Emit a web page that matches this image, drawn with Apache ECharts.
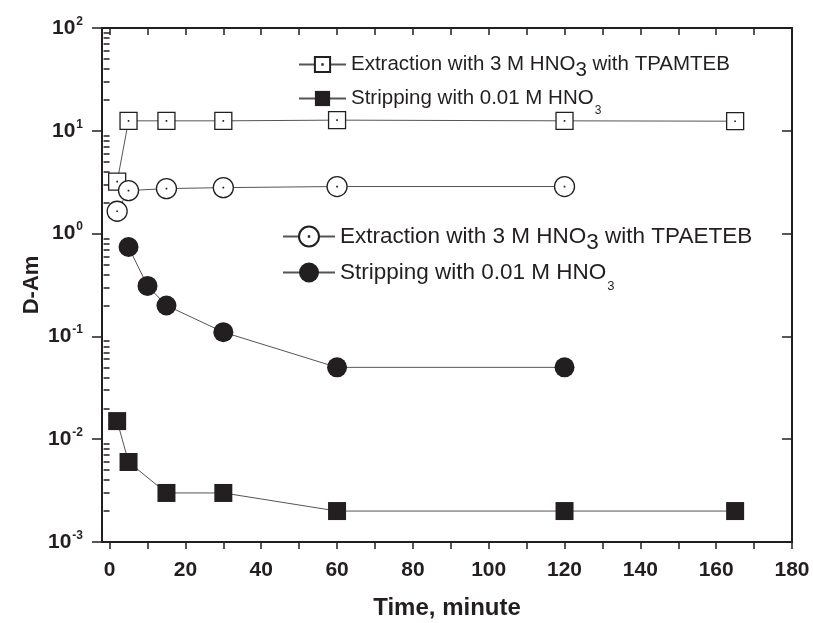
<!DOCTYPE html>
<html><head><meta charset="utf-8">
<script src="https://cdn.jsdelivr.net/npm/echarts@6/dist/echarts.min.js"></script>
<style>html,body{margin:0;padding:0;background:#fff}#c{width:813px;height:623px}</style>
</head><body><div id="c"></div>
<script>
// ---- data ----
const timeExtTPAMTEB = [2, 5, 15, 30, 60, 120, 165];
const dExtTPAMTEB    = [3.2, 12.5, 12.5, 12.5, 12.7, 12.5, 12.4];
const timeStrTPAMTEB = [2, 5, 15, 30, 60, 120, 165];
const dStrTPAMTEB    = [0.015, 0.006, 0.003, 0.003, 0.002, 0.002, 0.002];
const timeExtTPAETEB = [2, 5, 15, 30, 60, 120];
const dExtTPAETEB    = [1.65, 2.62, 2.74, 2.8, 2.87, 2.87];
const timeStrTPAETEB = [5, 10, 15, 30, 60, 120];
const dStrTPAETEB    = [0.74, 0.31, 0.2, 0.11, 0.05, 0.05];

const xMajorTicks = [0, 20, 40, 60, 80, 100, 120, 140, 160, 180];
const xAllTicks   = [0, 10, 20, 30, 40, 50, 60, 70, 80, 90, 100, 110, 120, 130, 140, 150, 160, 170, 180];
const yDecades    = [0.001, 0.01, 0.1, 1, 10, 100];
const yExponents  = ['-3', '-2', '-1', '0', '1', '2'];
const yMinorTicks = [0.002,0.003,0.004,0.005,0.006,0.007,0.008,0.009,
                     0.02,0.03,0.04,0.05,0.06,0.07,0.08,0.09,
                     0.2,0.3,0.4,0.5,0.6,0.7,0.8,0.9,
                     2,3,4,5,6,7,8,9,
                     20,30,40,50,60,70,80,90];

const nExtA = 'Extraction with 3 M HNO3 with TPAMTEB';
const nStrA = 'Stripping with 0.01 M HNO3 (TPAMTEB)';
const nExtB = 'Extraction with 3 M HNO3 with TPAETEB';
const nStrB = 'Stripping with 0.01 M HNO3 (TPAETEB)';

// ---- chart ----
const FONT = '"Liberation Sans", Arial, Helvetica, sans-serif';
const INK = '#231f20';
const SQ_DOT = 'path://M0,0H20V20H0Z M9.8,9.8H10.2V10.2H9.8Z';
const CI_DOT = 'path://M10,0A10,10,0,1,1,10,20A10,10,0,1,1,10,0Z M9.8,9.8H10.2V10.2H9.8Z';

function pairs(xs, ys) { return xs.map((x, i) => [x, ys[i]]); }

function mkRich(fs, bigPad, subFs, subPad) {
  return {
    t:  { fontFamily: FONT, fontSize: fs, color: INK },
    bs: { fontFamily: FONT, fontSize: fs, color: INK, padding: [bigPad, 0, 0, 0] },
    ss: { fontFamily: FONT, fontSize: subFs, color: INK, padding: [subPad, 0, 0, 1] }
  };
}
const legendText = {};
legendText[nExtA] = '{t|Extraction with 3 M HNO}{bs|3}{t| with TPAMTEB}';
legendText[nStrA] = '{t|Stripping with 0.01 M HNO}{ss|3}';
legendText[nExtB] = '{t|Extraction with 3 M HNO}{bs|3}{t| with TPAETEB}';
legendText[nStrB] = '{t|Stripping with 0.01 M HNO}{ss|3}';

function mkLegend(name, left, top, w, h, fs, rich) {
  return {
    data: [name], left: left, top: top, orient: 'vertical', padding: 0,
    itemWidth: w, itemHeight: h, itemGap: 0, selectedMode: false,
    formatter: n => legendText[n],
    textStyle: { fontFamily: FONT, fontSize: fs, color: INK, rich: rich }
  };
}
const richA = mkRich(20.5, 11, 12, 25);
const richB = mkRich(22.5, 12, 13, 27);

function yLabel(v) {
  const i = yDecades.findIndex(d => Math.abs(d - v) / d < 1e-6);
  return i < 0 ? '' : '{b|10}{s|' + yExponents[i] + '}';
}

const axisLineStyle = { color: INK, width: 2 };

const option = {
  animation: false,
  backgroundColor: '#fff',
  grid: { left: 102, right: 21, top: 28, bottom: 81, containLabel: false, outerBoundsMode: 'none' },
  legend: [
    mkLegend(nExtA, 298, 54, 47, 19, 20.5, richA),
    mkLegend(nStrA, 298, 88, 47, 19, 20.5, richA),
    mkLegend(nExtB, 282, 225, 52, 25, 22.5, richB),
    mkLegend(nStrB, 282, 261, 52, 25, 22.5, richB)
  ],
  xAxis: [
    {
      type: 'value', min: -2, max: 180, position: 'bottom',
      axisLine: { show: true, onZero: false, lineStyle: axisLineStyle },
      axisTick: { show: true, customValues: xAllTicks, length: 7, inside: false, lineStyle: { color: INK, width: 1.5 } },
      axisLabel: { customValues: xMajorTicks, fontFamily: FONT, fontSize: 21, fontWeight: 'bold', color: INK, margin: 18 },
      splitLine: { show: false },
      name: 'Time, minute', nameLocation: 'middle', nameGap: 54, nameMoveOverlap: false,
      nameTextStyle: { fontFamily: FONT, fontSize: 24, fontWeight: 'bold', color: INK }
    },
    {
      type: 'value', min: -2, max: 180, position: 'top',
      axisLine: { show: true, onZero: false, lineStyle: axisLineStyle },
      axisTick: { show: true, customValues: xAllTicks, length: 7, inside: true, lineStyle: { color: INK, width: 1.5 } },
      axisLabel: { show: false }, splitLine: { show: false }
    }
  ],
  yAxis: [
    {
      type: 'log', logBase: 10, min: 0.001, max: 100, position: 'left',
      axisLine: { show: true, onZero: false, lineStyle: axisLineStyle },
      axisTick: { show: true, customValues: yDecades, length: 10, lineStyle: { color: INK, width: 1.5 } },
      axisLabel: {
        customValues: yDecades, margin: 19, formatter: yLabel,
        rich: {
          b: { fontFamily: FONT, fontSize: 21, fontWeight: 'bold', color: INK },
          s: { fontFamily: FONT, fontSize: 12, fontWeight: 'bold', color: INK, padding: [0, 0, 13, 1] }
        }
      },
      splitLine: { show: false },
      name: 'D-Am', nameLocation: 'middle', nameGap: 59, nameMoveOverlap: false,
      nameTextStyle: { fontFamily: FONT, fontSize: 22, fontWeight: 'bold', color: INK }
    },
    {
      type: 'log', logBase: 10, min: 0.001, max: 100, position: 'left',
      axisLine: { show: false },
      axisTick: { show: true, customValues: yMinorTicks, length: 6, lineStyle: { color: INK, width: 1.5 } },
      axisLabel: { show: false }, splitLine: { show: false }
    },
    {
      type: 'log', logBase: 10, min: 0.001, max: 100, position: 'right',
      axisLine: { show: true, onZero: false, lineStyle: axisLineStyle },
      axisTick: { show: true, customValues: yDecades, length: 10, inside: true, lineStyle: { color: INK, width: 1.5 } },
      axisLabel: { show: false }, splitLine: { show: false }
    },
    {
      type: 'log', logBase: 10, min: 0.001, max: 100, position: 'right',
      axisLine: { show: false },
      axisTick: { show: true, customValues: yMinorTicks, length: 6, inside: true, lineStyle: { color: INK, width: 1.5 } },
      axisLabel: { show: false }, splitLine: { show: false }
    }
  ],
  series: [
    {
      name: nExtA, type: 'line', data: pairs(timeExtTPAMTEB, dExtTPAMTEB),
      symbol: SQ_DOT, symbolSize: 17,
      itemStyle: { color: '#fff', borderColor: INK, borderWidth: 1.3 },
      lineStyle: { color: '#555', width: 1 }
    },
    {
      name: nStrA, type: 'line', data: pairs(timeStrTPAMTEB, dStrTPAMTEB),
      symbol: 'rect', symbolSize: 18,
      itemStyle: { color: INK, borderColor: INK, borderWidth: 0 },
      lineStyle: { color: '#555', width: 1 }
    },
    {
      name: nExtB, type: 'line', data: pairs(timeExtTPAETEB, dExtTPAETEB),
      symbol: CI_DOT, symbolSize: 20,
      itemStyle: { color: '#fff', borderColor: INK, borderWidth: 1.3 },
      lineStyle: { color: '#555', width: 1 }
    },
    {
      name: nStrB, type: 'line', data: pairs(timeStrTPAETEB, dStrTPAETEB),
      symbol: 'circle', symbolSize: 20,
      itemStyle: { color: INK, borderColor: INK, borderWidth: 0 },
      lineStyle: { color: '#555', width: 1 }
    }
  ]
};

const chart = echarts.init(document.getElementById('c'), null, { renderer: 'canvas' });
chart.setOption(option);
</script>
</body></html>
